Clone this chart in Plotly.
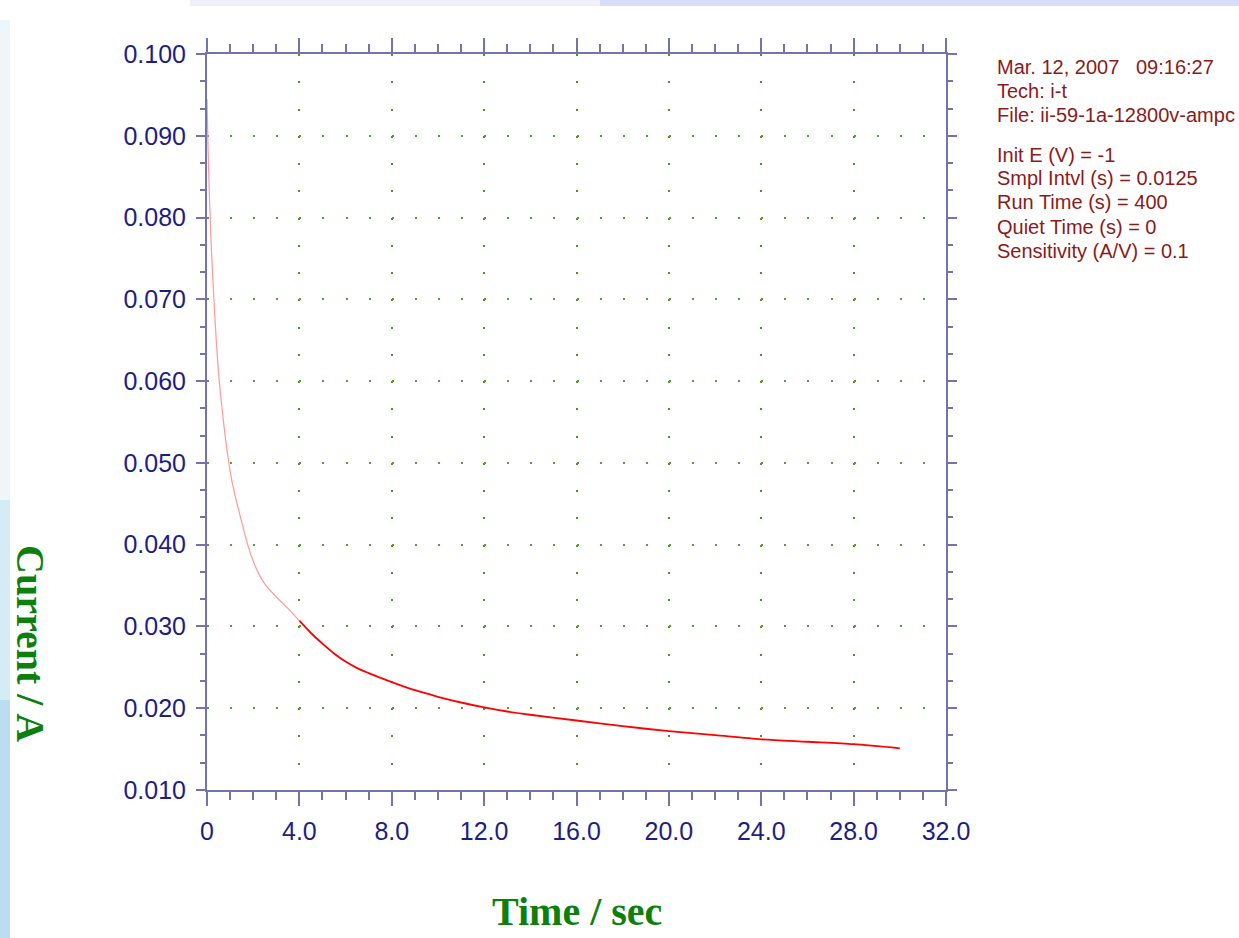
import plotly.graph_objects as go

# Data
time_s = [0.0, 0.05, 0.1, 0.15, 0.2, 0.3, 0.4, 0.5, 0.6, 0.8, 1.0, 1.2, 1.5, 1.75, 2.0,
          2.25, 2.5, 3.0, 3.5, 4.0, 4.5, 5.0, 5.5, 6.0, 6.5, 7.0, 8.0, 9.0, 10.0, 11.0,
          12.0, 13.0, 14.0, 16.0, 18.0, 20.0, 22.0, 24.0, 26.0, 28.0, 30.0]
current_a = [0.0945, 0.088, 0.083, 0.079, 0.0755, 0.070, 0.065, 0.061, 0.058, 0.053,
             0.049, 0.0462, 0.0428, 0.0401, 0.0380, 0.0364, 0.0352, 0.0336, 0.0322,
             0.0307, 0.0292, 0.0279, 0.0267, 0.0257, 0.0249, 0.0243, 0.0232, 0.0222,
             0.0214, 0.0207, 0.0201, 0.0196, 0.0192, 0.0185, 0.0178, 0.0172, 0.0167,
             0.0162, 0.0159, 0.0156, 0.0151]

x_tick_vals = [0, 4, 8, 12, 16, 20, 24, 28, 32]
x_tick_text = ["0", "4.0", "8.0", "12.0", "16.0", "20.0", "24.0", "28.0", "32.0"]
y_tick_vals = [0.010, 0.020, 0.030, 0.040, 0.050, 0.060, 0.070, 0.080, 0.090, 0.100]

info_lines_1 = ["Mar. 12, 2007   09:16:27", "Tech: i-t", "File: ii-59-1a-12800v-ampc"]
info_lines_2 = ["Init E (V) = -1", "Smpl Intvl (s) = 0.0125", "Run Time (s) = 400",
                "Quiet Time (s) = 0", "Sensitivity (A/V) = 0.1"]

W, H = 1239, 938
L, R, T, B = 207, 293, 54, 148
PW, PH = W - L - R, H - T - B

AXIS_COL = "#7474ac"
TICK_FONT = dict(family="Liberation Sans, Arial, sans-serif", size=25, color="#1e1e82")
GREEN = "#0c7f0c"

split = time_s.index(4.0) + 1

fig = go.Figure()
fig.add_trace(go.Scatter(x=time_s[:split], y=current_a[:split], mode="lines",
                         line=dict(color="#ff9a9a", width=1.2, shape="spline", smoothing=0.8),
                         showlegend=False, hoverinfo="skip"))
fig.add_trace(go.Scatter(x=time_s[split - 1:], y=current_a[split - 1:], mode="lines",
                         line=dict(color="#ff0000", width=1.8, shape="spline", smoothing=0.8),
                         showlegend=False))

x_minor = PW / 32.0
y_minor = PH / 27.0

fig.update_xaxes(
    range=[0, 32], tickvals=x_tick_vals, ticktext=x_tick_text,
    showline=True, linecolor=AXIS_COL, linewidth=2, mirror="allticks",
    ticks="outside", ticklen=14, tickwidth=1.5, tickcolor=AXIS_COL,
    tickfont=TICK_FONT, ticklabelstandoff=4,
    minor=dict(dtick=1, ticks="outside", ticklen=8, tickwidth=1.5, tickcolor=AXIS_COL,
               showgrid=False),
    showgrid=True, gridcolor="#4a9a18", gridwidth=2,
    griddash=f"2px,{y_minor - 2:.3f}px",
    zeroline=False,
)
fig.update_yaxes(
    range=[0.010, 0.100], tickvals=y_tick_vals, tickformat=".3f",
    showline=True, linecolor=AXIS_COL, linewidth=2, mirror="allticks",
    ticks="outside", ticklen=9, tickwidth=1.5, tickcolor=AXIS_COL,
    tickfont=TICK_FONT, ticklabelstandoff=5,
    minor=dict(dtick=0.01 / 3, tick0=0.01, ticks="outside", ticklen=5, tickwidth=1.5,
               tickcolor=AXIS_COL, showgrid=False),
    showgrid=True, gridcolor="#56a022", gridwidth=2,
    griddash=f"2px,{x_minor - 2:.3f}px",
    zeroline=False,
)

annotations = []
title_font = dict(family="Liberation Serif, Times New Roman, serif", size=40, color=GREEN)
annotations.append(dict(text="<b>Time / sec</b>", xref="paper", yref="paper",
                        x=(577 - L) / PW, y=(H - B - 912) / PH, showarrow=False,
                        font=title_font, xanchor="center", yanchor="middle"))
annotations.append(dict(text="<b>Current / A</b>", xref="paper", yref="paper",
                        x=(31 - L) / PW, y=(H - B - 643) / PH, showarrow=False,
                        font=title_font, textangle=90, xanchor="center", yanchor="middle"))

info_font = dict(family="Liberation Sans, Arial, sans-serif", size=20, color="#8c1a1a")
info_x = (995 - L) / PW
for txt, ypx in zip(info_lines_1, [67, 91, 115]):
    annotations.append(dict(text=txt, xref="paper", yref="paper", x=info_x,
                            y=(H - B - ypx) / PH, showarrow=False, font=info_font,
                            xanchor="left", yanchor="middle"))
for txt, ypx in zip(info_lines_2, [155, 178, 202, 227, 251]):
    annotations.append(dict(text=txt, xref="paper", yref="paper", x=info_x,
                            y=(H - B - ypx) / PH, showarrow=False, font=info_font,
                            xanchor="left", yanchor="middle"))

def px_x(p):
    return (p - L) / PW

def px_y(p):
    return (H - B - p) / PH

shapes = [
    dict(type="rect", xref="paper", yref="paper", x0=px_x(190), x1=px_x(600),
         y0=px_y(6), y1=px_y(0), fillcolor="#eef1fc", line_width=0, layer="below"),
    dict(type="rect", xref="paper", yref="paper", x0=px_x(600), x1=px_x(1239),
         y0=px_y(6), y1=px_y(0), fillcolor="#d6ddfa", line_width=0, layer="below"),
    dict(type="rect", xref="paper", yref="paper", x0=px_x(0), x1=px_x(10),
         y0=px_y(500), y1=px_y(20), fillcolor="#eef6fb", line_width=0, layer="below"),
    dict(type="rect", xref="paper", yref="paper", x0=px_x(0), x1=px_x(10),
         y0=px_y(700), y1=px_y(500), fillcolor="#d4ecf6", line_width=0, layer="below"),
    dict(type="rect", xref="paper", yref="paper", x0=px_x(0), x1=px_x(10),
         y0=px_y(938), y1=px_y(700), fillcolor="#bcdcf2", line_width=0, layer="below"),
]

fig.update_layout(
    width=W, height=H,
    margin=dict(l=L, r=R, t=T, b=B, autoexpand=False),
    paper_bgcolor="white", plot_bgcolor="white",
    annotations=annotations, shapes=shapes,
    showlegend=False,
)

fig.write_html("out.html")
